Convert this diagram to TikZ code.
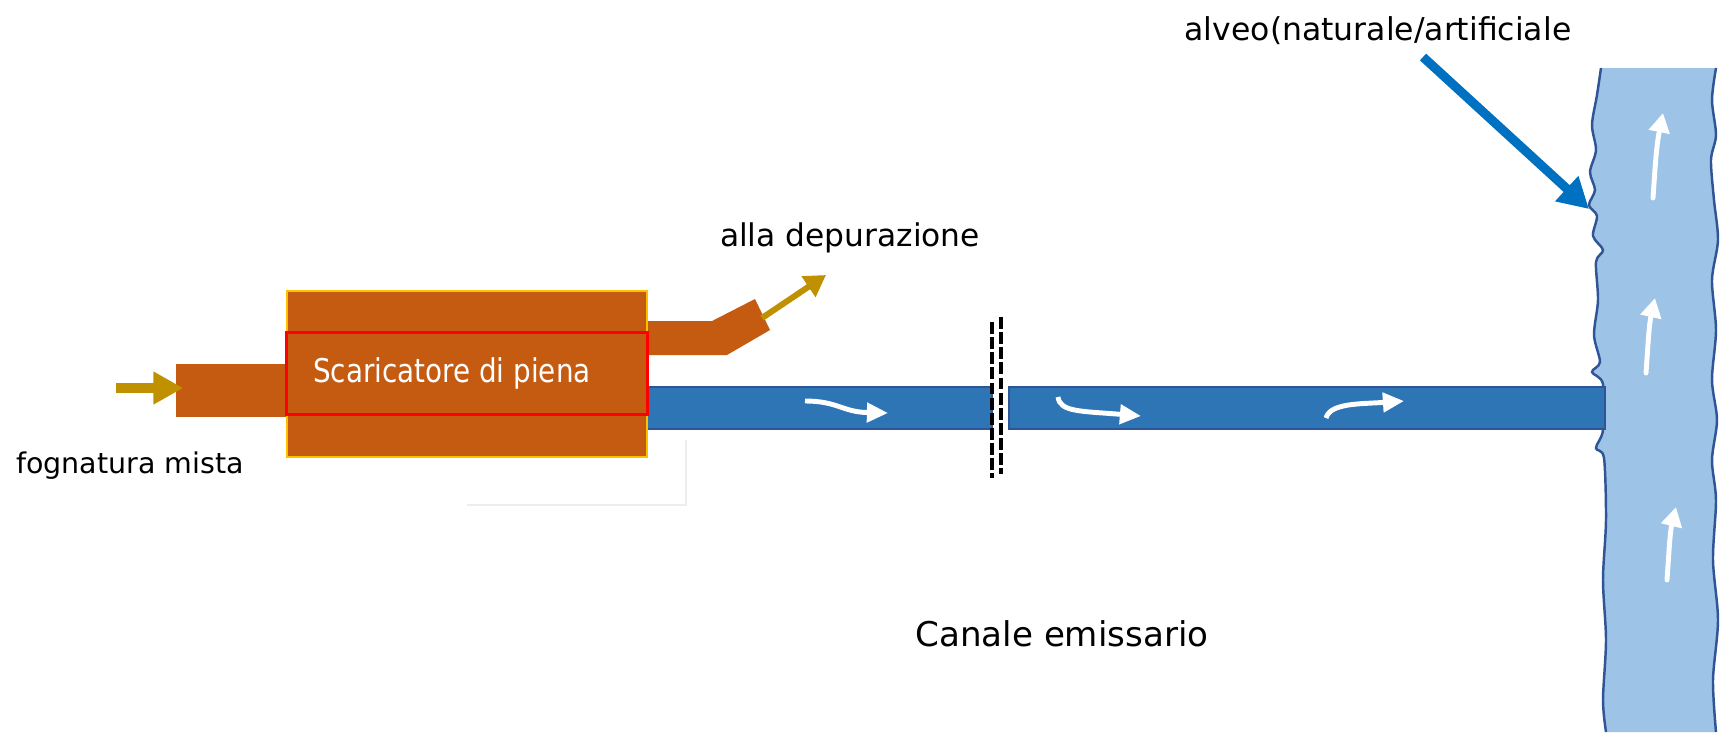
\documentclass[tikz,border=0pt]{standalone}
\usepackage{fontspec}
\setmainfont{DejaVu Sans}
\newfontfamily\narrowfont[FakeStretch=0.85]{DejaVu Sans}
\usepackage{xcolor}
\usepackage{tikz}
\usetikzlibrary{arrows, arrows.meta, positioning, calc}
\definecolor{rust}{RGB}{197, 90, 17}
\definecolor{amber}{RGB}{255, 192, 0}
\definecolor{gold}{RGB}{191, 144, 0}
\definecolor{pipeblue}{RGB}{46, 117, 182}
\definecolor{edgeblue}{RGB}{47, 85, 151}
\definecolor{riverblue}{RGB}{157, 195, 230}
\definecolor{arrowblue}{RGB}{0, 112, 192}
\definecolor{darktext}{RGB}{0, 0, 0}

\begin{document}
\begin{tikzpicture}[
    x=0.01cm, y=-0.01cm,
    caption/.style={inner sep=0pt, text=darktext},
    tank/.style={rectangle, fill=rust, draw=amber, line width=0.5pt,
                 minimum width=3.6cm, minimum height=1.66cm, inner sep=0pt},
    weir/.style={rectangle, draw=red, line width=0.8pt,
                 minimum width=3.6cm, minimum height=0.82cm, inner sep=0pt},
    duct/.style={rectangle, fill=rust, minimum width=1.2cm, minimum height=0.53cm, inner sep=0pt},
    pipe/.style={fill=pipeblue, draw=edgeblue, line width=0.6pt},
    feed/.style={-{Triangle[width=8.8pt, length=8.5pt]}, line width=2.8pt, gold},
    outflow/.style={-{Triangle[width=6.8pt, length=6pt]}, line width=1.7pt, gold},
    pointer/.style={-{Triangle[width=9.2pt, length=8.6pt]}, line width=2.6pt, arrowblue},
    flow/.style={-{Triangle[width=5.4pt, length=6pt]}, line width=1.4pt, white},
    current/.style={-{Triangle[width=5.8pt, length=5.5pt]}, line width=1.4pt, white, line cap=round},
    grate/.style={draw=black, line width=1.15pt, dash pattern=on 3.4pt off 0.9pt},
    bank/.style={draw=edgeblue, line width=0.7pt}
]
\useasboundingbox (0,0) rectangle (1720,732);

% River
\fill[riverblue] plot[smooth, tension=0.5] coordinates {(1601,68) (1597,95) (1592,125) (1596,150) (1590,172) (1595,190) (1589,205) (1597,216) (1593,236) (1603,250) (1596,262) (1598,300) (1594,335) (1600,362) (1592,372) (1603,384) (1603,430) (1596,448) (1604,458) (1606,520) (1603,580) (1606,640) (1603,700) (1606,732)}
  -- plot[smooth, tension=0.5] coordinates {(1716,732) (1713,680) (1718,620) (1713,560) (1716,500) (1712,460) (1717,420) (1712,380) (1716,330) (1712,280) (1718,240) (1714,200) (1711,160) (1716,135) (1712,100) (1716,68)} -- cycle;
\draw[bank] plot[smooth, tension=0.5] coordinates {(1601,68) (1597,95) (1592,125) (1596,150) (1590,172) (1595,190) (1589,205) (1597,216) (1593,236) (1603,250) (1596,262) (1598,300) (1594,335) (1600,362) (1592,372) (1603,384) (1603,430) (1596,448) (1604,458) (1606,520) (1603,580) (1606,640) (1603,700) (1606,732)};
\draw[bank] plot[smooth, tension=0.5] coordinates {(1716,732) (1713,680) (1718,620) (1713,560) (1716,500) (1712,460) (1717,420) (1712,380) (1716,330) (1712,280) (1718,240) (1714,200) (1711,160) (1716,135) (1712,100) (1716,68)};
\draw[current] (1653,198) .. controls (1655,170) and (1656,148) .. (1663,113);
\draw[current] (1646,373) .. controls (1648,345) and (1649,325) .. (1655,298);
\draw[current] (1667,580) .. controls (1669,552) and (1670,532) .. (1676,507);

% Emissary channel
\node[pipe, minimum width=3.45cm, minimum height=0.42cm, inner sep=0pt] (canal1) at (819.5,408) {};
\node[pipe, minimum width=5.96cm, minimum height=0.42cm, inner sep=0pt] (canal2) at (1307,408) {};
\draw[grate] (992,322) -- (992,478);
\draw[grate] (1001,317) -- (1001,474);
\draw[flow] (805,401) .. controls (838,401) and (842,412) .. (888,413);
\draw[flow] (1058,397) .. controls (1060,412) and (1080,411) .. (1141,416);
\draw[flow] (1326,418) .. controls (1330,403) and (1360,404) .. (1404,401);

% Faint outline
\draw[black!7, line width=0.4pt] (467,505) -- (686,505) -- (686,440);

% Overflow chamber
\node[duct] (inlet) at (236,390.5) {};
\fill[rust] (645,321) -- (712,321) -- (755,299) -- (770,330) -- (727,355) -- (645,355) -- cycle;
\node[tank] (tank) at (467,374) {};
\node[weir] (weir) at (467,373.5) {};
\node[right=0.27cm of weir.west, inner sep=0pt, text=white,
      font=\narrowfont\fontsize{9.3}{11}\selectfont] (weirtext) {Scaricatore di piena};

% Arrows
\coordinate (sewer) at (116,388);
\draw[feed] (sewer) -- ($(sewer -| inlet.west)+(8,0)$);
\coordinate (outlet) at (762,318);
\coordinate (treat) at (826,275);
\draw[outflow] (outlet) -- (treat);
\coordinate (hint) at (1423,57);
\coordinate (shore) at (1589,209);
\draw[pointer] (hint) -- (shore);

% Labels
\node[caption, font=\fontsize{8.1}{10}\selectfont] (inflow) at (130,466) {fognatura mista};
\node[caption, font=\fontsize{8.9}{10}\selectfont] (depur) at (850,238) {alla depurazione};
\node[caption, font=\fontsize{9.7}{11}\selectfont] (canale) at (1062,634) {Canale emissario};
\node[caption, font=\fontsize{8.95}{10}\selectfont] (alveo) at (1378,31) {alveo(naturale/artificiale};

\end{tikzpicture}
\end{document}
